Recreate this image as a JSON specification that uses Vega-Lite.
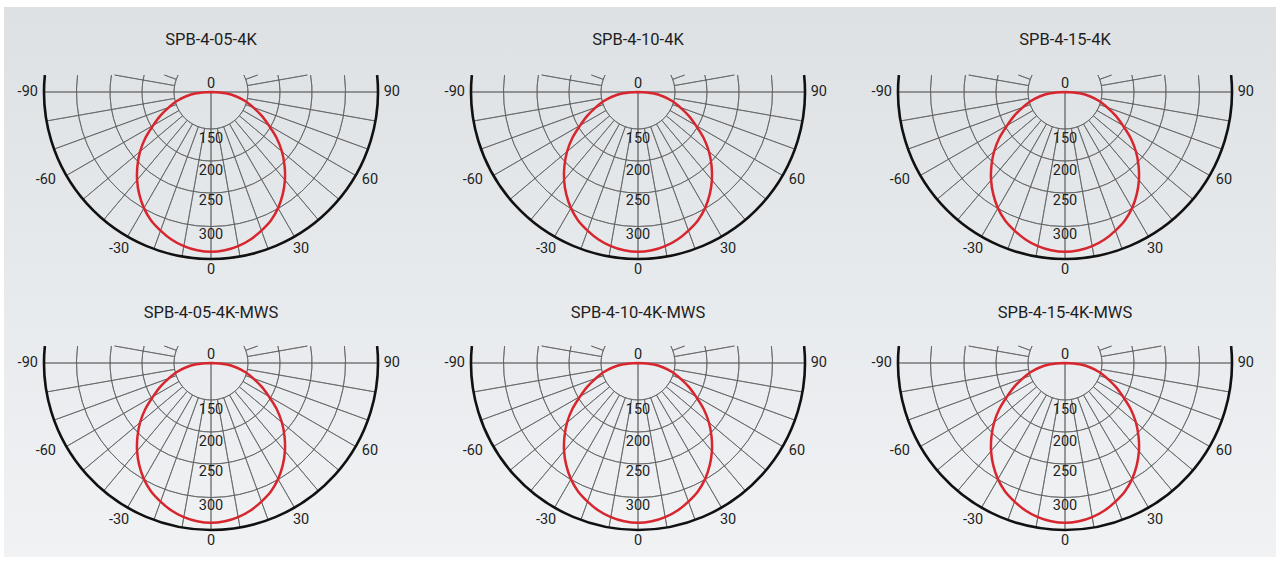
{
  "$schema": "https://vega.github.io/schema/vega-lite/v6.json",
  "background": "white",
  "padding": {"left": 4, "right": 4, "top": 7, "bottom": 5},
  "config": {"view": {"stroke": null}, "font": "Roboto"},
  "datasets": {
    "rings": [
      {"r": 77.5, "t1": 117.35, "t2": -117.35, "kind": "grid"},
      {"r": 144.6, "t1": 104.26, "t2": -104.26, "kind": "grid"},
      {"r": 211.7, "t1": 99.69, "t2": -99.69, "kind": "grid"},
      {"r": 281.9, "t1": 97.26, "t2": -97.26, "kind": "grid"},
      {"r": 350, "t1": 95.84, "t2": -95.84, "kind": "outer"}
    ],
    "spokes": [
      {"a": 0, "r1": 0, "r2": 350},
      {"a": 90, "r1": 0, "r2": 350},
      {"a": -90, "r1": 0, "r2": 350},
      {"a": 10, "r1": 77.5, "r2": 350}, {"a": -10, "r1": 77.5, "r2": 350},
      {"a": 20, "r1": 77.5, "r2": 350}, {"a": -20, "r1": 77.5, "r2": 350},
      {"a": 30, "r1": 77.5, "r2": 350}, {"a": -30, "r1": 77.5, "r2": 350},
      {"a": 40, "r1": 77.5, "r2": 350}, {"a": -40, "r1": 77.5, "r2": 350},
      {"a": 50, "r1": 77.5, "r2": 350}, {"a": -50, "r1": 77.5, "r2": 350},
      {"a": 60, "r1": 77.5, "r2": 350}, {"a": -60, "r1": 77.5, "r2": 350},
      {"a": 70, "r1": 77.5, "r2": 350}, {"a": -70, "r1": 77.5, "r2": 350},
      {"a": 80, "r1": 77.5, "r2": 350}, {"a": -80, "r1": 77.5, "r2": 350},
      {"a": 100, "r1": 77.5, "r2": 205}, {"a": -100, "r1": 77.5, "r2": 205},
      {"a": 110, "r1": 77.5, "r2": 104}, {"a": -110, "r1": 77.5, "r2": 104}
    ],
    "labels": [
      {"label": "-90", "a": -90, "r": 384},
      {"label": "90", "a": 90, "r": 379},
      {"label": "-60", "a": -62, "r": 392},
      {"label": "60", "a": 61, "r": 381},
      {"label": "-30", "a": -30.3, "r": 382},
      {"label": "30", "a": 29.8, "r": 380},
      {"label": "0", "a": 0, "r": 374},
      {"label": "0", "a": 180, "r": 16},
      {"label": "150", "a": 0, "r": 98},
      {"label": "200", "a": 0, "r": 166},
      {"label": "250", "a": 0, "r": 229},
      {"label": "300", "a": 0, "r": 299}
    ],
    "curve": [
      {"lamp":"SPB-4-05-4K","angle":-90,"intensity":0},{"lamp":"SPB-4-05-4K","angle":-85,"intensity":31},{"lamp":"SPB-4-05-4K","angle":-80,"intensity":54},{"lamp":"SPB-4-05-4K","angle":-75,"intensity":75},{"lamp":"SPB-4-05-4K","angle":-70,"intensity":94},{"lamp":"SPB-4-05-4K","angle":-65,"intensity":117},{"lamp":"SPB-4-05-4K","angle":-60,"intensity":140},{"lamp":"SPB-4-05-4K","angle":-55,"intensity":168},{"lamp":"SPB-4-05-4K","angle":-50,"intensity":194},{"lamp":"SPB-4-05-4K","angle":-45,"intensity":218},{"lamp":"SPB-4-05-4K","angle":-40,"intensity":241},{"lamp":"SPB-4-05-4K","angle":-35,"intensity":262},{"lamp":"SPB-4-05-4K","angle":-30,"intensity":281},{"lamp":"SPB-4-05-4K","angle":-25,"intensity":297},{"lamp":"SPB-4-05-4K","angle":-20,"intensity":309},{"lamp":"SPB-4-05-4K","angle":-15,"intensity":320},{"lamp":"SPB-4-05-4K","angle":-10,"intensity":328},{"lamp":"SPB-4-05-4K","angle":-5,"intensity":333},{"lamp":"SPB-4-05-4K","angle":0,"intensity":335},{"lamp":"SPB-4-05-4K","angle":5,"intensity":333},{"lamp":"SPB-4-05-4K","angle":10,"intensity":328},{"lamp":"SPB-4-05-4K","angle":15,"intensity":320},{"lamp":"SPB-4-05-4K","angle":20,"intensity":309},{"lamp":"SPB-4-05-4K","angle":25,"intensity":297},{"lamp":"SPB-4-05-4K","angle":30,"intensity":281},{"lamp":"SPB-4-05-4K","angle":35,"intensity":262},{"lamp":"SPB-4-05-4K","angle":40,"intensity":241},{"lamp":"SPB-4-05-4K","angle":45,"intensity":218},{"lamp":"SPB-4-05-4K","angle":50,"intensity":194},{"lamp":"SPB-4-05-4K","angle":55,"intensity":168},{"lamp":"SPB-4-05-4K","angle":60,"intensity":140},{"lamp":"SPB-4-05-4K","angle":65,"intensity":117},{"lamp":"SPB-4-05-4K","angle":70,"intensity":94},{"lamp":"SPB-4-05-4K","angle":75,"intensity":75},{"lamp":"SPB-4-05-4K","angle":80,"intensity":54},{"lamp":"SPB-4-05-4K","angle":85,"intensity":31},{"lamp":"SPB-4-05-4K","angle":90,"intensity":0},
      {"lamp":"SPB-4-10-4K","angle":-90,"intensity":0},{"lamp":"SPB-4-10-4K","angle":-85,"intensity":31},{"lamp":"SPB-4-10-4K","angle":-80,"intensity":54},{"lamp":"SPB-4-10-4K","angle":-75,"intensity":75},{"lamp":"SPB-4-10-4K","angle":-70,"intensity":94},{"lamp":"SPB-4-10-4K","angle":-65,"intensity":117},{"lamp":"SPB-4-10-4K","angle":-60,"intensity":140},{"lamp":"SPB-4-10-4K","angle":-55,"intensity":168},{"lamp":"SPB-4-10-4K","angle":-50,"intensity":194},{"lamp":"SPB-4-10-4K","angle":-45,"intensity":218},{"lamp":"SPB-4-10-4K","angle":-40,"intensity":241},{"lamp":"SPB-4-10-4K","angle":-35,"intensity":262},{"lamp":"SPB-4-10-4K","angle":-30,"intensity":281},{"lamp":"SPB-4-10-4K","angle":-25,"intensity":297},{"lamp":"SPB-4-10-4K","angle":-20,"intensity":309},{"lamp":"SPB-4-10-4K","angle":-15,"intensity":320},{"lamp":"SPB-4-10-4K","angle":-10,"intensity":328},{"lamp":"SPB-4-10-4K","angle":-5,"intensity":333},{"lamp":"SPB-4-10-4K","angle":0,"intensity":335},{"lamp":"SPB-4-10-4K","angle":5,"intensity":333},{"lamp":"SPB-4-10-4K","angle":10,"intensity":328},{"lamp":"SPB-4-10-4K","angle":15,"intensity":320},{"lamp":"SPB-4-10-4K","angle":20,"intensity":309},{"lamp":"SPB-4-10-4K","angle":25,"intensity":297},{"lamp":"SPB-4-10-4K","angle":30,"intensity":281},{"lamp":"SPB-4-10-4K","angle":35,"intensity":262},{"lamp":"SPB-4-10-4K","angle":40,"intensity":241},{"lamp":"SPB-4-10-4K","angle":45,"intensity":218},{"lamp":"SPB-4-10-4K","angle":50,"intensity":194},{"lamp":"SPB-4-10-4K","angle":55,"intensity":168},{"lamp":"SPB-4-10-4K","angle":60,"intensity":140},{"lamp":"SPB-4-10-4K","angle":65,"intensity":117},{"lamp":"SPB-4-10-4K","angle":70,"intensity":94},{"lamp":"SPB-4-10-4K","angle":75,"intensity":75},{"lamp":"SPB-4-10-4K","angle":80,"intensity":54},{"lamp":"SPB-4-10-4K","angle":85,"intensity":31},{"lamp":"SPB-4-10-4K","angle":90,"intensity":0},
      {"lamp":"SPB-4-15-4K","angle":-90,"intensity":0},{"lamp":"SPB-4-15-4K","angle":-85,"intensity":31},{"lamp":"SPB-4-15-4K","angle":-80,"intensity":54},{"lamp":"SPB-4-15-4K","angle":-75,"intensity":75},{"lamp":"SPB-4-15-4K","angle":-70,"intensity":94},{"lamp":"SPB-4-15-4K","angle":-65,"intensity":117},{"lamp":"SPB-4-15-4K","angle":-60,"intensity":140},{"lamp":"SPB-4-15-4K","angle":-55,"intensity":168},{"lamp":"SPB-4-15-4K","angle":-50,"intensity":194},{"lamp":"SPB-4-15-4K","angle":-45,"intensity":218},{"lamp":"SPB-4-15-4K","angle":-40,"intensity":241},{"lamp":"SPB-4-15-4K","angle":-35,"intensity":262},{"lamp":"SPB-4-15-4K","angle":-30,"intensity":281},{"lamp":"SPB-4-15-4K","angle":-25,"intensity":297},{"lamp":"SPB-4-15-4K","angle":-20,"intensity":309},{"lamp":"SPB-4-15-4K","angle":-15,"intensity":320},{"lamp":"SPB-4-15-4K","angle":-10,"intensity":328},{"lamp":"SPB-4-15-4K","angle":-5,"intensity":333},{"lamp":"SPB-4-15-4K","angle":0,"intensity":335},{"lamp":"SPB-4-15-4K","angle":5,"intensity":333},{"lamp":"SPB-4-15-4K","angle":10,"intensity":328},{"lamp":"SPB-4-15-4K","angle":15,"intensity":320},{"lamp":"SPB-4-15-4K","angle":20,"intensity":309},{"lamp":"SPB-4-15-4K","angle":25,"intensity":297},{"lamp":"SPB-4-15-4K","angle":30,"intensity":281},{"lamp":"SPB-4-15-4K","angle":35,"intensity":262},{"lamp":"SPB-4-15-4K","angle":40,"intensity":241},{"lamp":"SPB-4-15-4K","angle":45,"intensity":218},{"lamp":"SPB-4-15-4K","angle":50,"intensity":194},{"lamp":"SPB-4-15-4K","angle":55,"intensity":168},{"lamp":"SPB-4-15-4K","angle":60,"intensity":140},{"lamp":"SPB-4-15-4K","angle":65,"intensity":117},{"lamp":"SPB-4-15-4K","angle":70,"intensity":94},{"lamp":"SPB-4-15-4K","angle":75,"intensity":75},{"lamp":"SPB-4-15-4K","angle":80,"intensity":54},{"lamp":"SPB-4-15-4K","angle":85,"intensity":31},{"lamp":"SPB-4-15-4K","angle":90,"intensity":0},
      {"lamp":"SPB-4-05-4K-MWS","angle":-90,"intensity":0},{"lamp":"SPB-4-05-4K-MWS","angle":-85,"intensity":31},{"lamp":"SPB-4-05-4K-MWS","angle":-80,"intensity":54},{"lamp":"SPB-4-05-4K-MWS","angle":-75,"intensity":75},{"lamp":"SPB-4-05-4K-MWS","angle":-70,"intensity":94},{"lamp":"SPB-4-05-4K-MWS","angle":-65,"intensity":117},{"lamp":"SPB-4-05-4K-MWS","angle":-60,"intensity":140},{"lamp":"SPB-4-05-4K-MWS","angle":-55,"intensity":168},{"lamp":"SPB-4-05-4K-MWS","angle":-50,"intensity":194},{"lamp":"SPB-4-05-4K-MWS","angle":-45,"intensity":218},{"lamp":"SPB-4-05-4K-MWS","angle":-40,"intensity":241},{"lamp":"SPB-4-05-4K-MWS","angle":-35,"intensity":262},{"lamp":"SPB-4-05-4K-MWS","angle":-30,"intensity":281},{"lamp":"SPB-4-05-4K-MWS","angle":-25,"intensity":297},{"lamp":"SPB-4-05-4K-MWS","angle":-20,"intensity":309},{"lamp":"SPB-4-05-4K-MWS","angle":-15,"intensity":320},{"lamp":"SPB-4-05-4K-MWS","angle":-10,"intensity":328},{"lamp":"SPB-4-05-4K-MWS","angle":-5,"intensity":333},{"lamp":"SPB-4-05-4K-MWS","angle":0,"intensity":335},{"lamp":"SPB-4-05-4K-MWS","angle":5,"intensity":333},{"lamp":"SPB-4-05-4K-MWS","angle":10,"intensity":328},{"lamp":"SPB-4-05-4K-MWS","angle":15,"intensity":320},{"lamp":"SPB-4-05-4K-MWS","angle":20,"intensity":309},{"lamp":"SPB-4-05-4K-MWS","angle":25,"intensity":297},{"lamp":"SPB-4-05-4K-MWS","angle":30,"intensity":281},{"lamp":"SPB-4-05-4K-MWS","angle":35,"intensity":262},{"lamp":"SPB-4-05-4K-MWS","angle":40,"intensity":241},{"lamp":"SPB-4-05-4K-MWS","angle":45,"intensity":218},{"lamp":"SPB-4-05-4K-MWS","angle":50,"intensity":194},{"lamp":"SPB-4-05-4K-MWS","angle":55,"intensity":168},{"lamp":"SPB-4-05-4K-MWS","angle":60,"intensity":140},{"lamp":"SPB-4-05-4K-MWS","angle":65,"intensity":117},{"lamp":"SPB-4-05-4K-MWS","angle":70,"intensity":94},{"lamp":"SPB-4-05-4K-MWS","angle":75,"intensity":75},{"lamp":"SPB-4-05-4K-MWS","angle":80,"intensity":54},{"lamp":"SPB-4-05-4K-MWS","angle":85,"intensity":31},{"lamp":"SPB-4-05-4K-MWS","angle":90,"intensity":0},
      {"lamp":"SPB-4-10-4K-MWS","angle":-90,"intensity":0},{"lamp":"SPB-4-10-4K-MWS","angle":-85,"intensity":31},{"lamp":"SPB-4-10-4K-MWS","angle":-80,"intensity":54},{"lamp":"SPB-4-10-4K-MWS","angle":-75,"intensity":75},{"lamp":"SPB-4-10-4K-MWS","angle":-70,"intensity":94},{"lamp":"SPB-4-10-4K-MWS","angle":-65,"intensity":117},{"lamp":"SPB-4-10-4K-MWS","angle":-60,"intensity":140},{"lamp":"SPB-4-10-4K-MWS","angle":-55,"intensity":168},{"lamp":"SPB-4-10-4K-MWS","angle":-50,"intensity":194},{"lamp":"SPB-4-10-4K-MWS","angle":-45,"intensity":218},{"lamp":"SPB-4-10-4K-MWS","angle":-40,"intensity":241},{"lamp":"SPB-4-10-4K-MWS","angle":-35,"intensity":262},{"lamp":"SPB-4-10-4K-MWS","angle":-30,"intensity":281},{"lamp":"SPB-4-10-4K-MWS","angle":-25,"intensity":297},{"lamp":"SPB-4-10-4K-MWS","angle":-20,"intensity":309},{"lamp":"SPB-4-10-4K-MWS","angle":-15,"intensity":320},{"lamp":"SPB-4-10-4K-MWS","angle":-10,"intensity":328},{"lamp":"SPB-4-10-4K-MWS","angle":-5,"intensity":333},{"lamp":"SPB-4-10-4K-MWS","angle":0,"intensity":335},{"lamp":"SPB-4-10-4K-MWS","angle":5,"intensity":333},{"lamp":"SPB-4-10-4K-MWS","angle":10,"intensity":328},{"lamp":"SPB-4-10-4K-MWS","angle":15,"intensity":320},{"lamp":"SPB-4-10-4K-MWS","angle":20,"intensity":309},{"lamp":"SPB-4-10-4K-MWS","angle":25,"intensity":297},{"lamp":"SPB-4-10-4K-MWS","angle":30,"intensity":281},{"lamp":"SPB-4-10-4K-MWS","angle":35,"intensity":262},{"lamp":"SPB-4-10-4K-MWS","angle":40,"intensity":241},{"lamp":"SPB-4-10-4K-MWS","angle":45,"intensity":218},{"lamp":"SPB-4-10-4K-MWS","angle":50,"intensity":194},{"lamp":"SPB-4-10-4K-MWS","angle":55,"intensity":168},{"lamp":"SPB-4-10-4K-MWS","angle":60,"intensity":140},{"lamp":"SPB-4-10-4K-MWS","angle":65,"intensity":117},{"lamp":"SPB-4-10-4K-MWS","angle":70,"intensity":94},{"lamp":"SPB-4-10-4K-MWS","angle":75,"intensity":75},{"lamp":"SPB-4-10-4K-MWS","angle":80,"intensity":54},{"lamp":"SPB-4-10-4K-MWS","angle":85,"intensity":31},{"lamp":"SPB-4-10-4K-MWS","angle":90,"intensity":0},
      {"lamp":"SPB-4-15-4K-MWS","angle":-90,"intensity":0},{"lamp":"SPB-4-15-4K-MWS","angle":-85,"intensity":31},{"lamp":"SPB-4-15-4K-MWS","angle":-80,"intensity":54},{"lamp":"SPB-4-15-4K-MWS","angle":-75,"intensity":75},{"lamp":"SPB-4-15-4K-MWS","angle":-70,"intensity":94},{"lamp":"SPB-4-15-4K-MWS","angle":-65,"intensity":117},{"lamp":"SPB-4-15-4K-MWS","angle":-60,"intensity":140},{"lamp":"SPB-4-15-4K-MWS","angle":-55,"intensity":168},{"lamp":"SPB-4-15-4K-MWS","angle":-50,"intensity":194},{"lamp":"SPB-4-15-4K-MWS","angle":-45,"intensity":218},{"lamp":"SPB-4-15-4K-MWS","angle":-40,"intensity":241},{"lamp":"SPB-4-15-4K-MWS","angle":-35,"intensity":262},{"lamp":"SPB-4-15-4K-MWS","angle":-30,"intensity":281},{"lamp":"SPB-4-15-4K-MWS","angle":-25,"intensity":297},{"lamp":"SPB-4-15-4K-MWS","angle":-20,"intensity":309},{"lamp":"SPB-4-15-4K-MWS","angle":-15,"intensity":320},{"lamp":"SPB-4-15-4K-MWS","angle":-10,"intensity":328},{"lamp":"SPB-4-15-4K-MWS","angle":-5,"intensity":333},{"lamp":"SPB-4-15-4K-MWS","angle":0,"intensity":335},{"lamp":"SPB-4-15-4K-MWS","angle":5,"intensity":333},{"lamp":"SPB-4-15-4K-MWS","angle":10,"intensity":328},{"lamp":"SPB-4-15-4K-MWS","angle":15,"intensity":320},{"lamp":"SPB-4-15-4K-MWS","angle":20,"intensity":309},{"lamp":"SPB-4-15-4K-MWS","angle":25,"intensity":297},{"lamp":"SPB-4-15-4K-MWS","angle":30,"intensity":281},{"lamp":"SPB-4-15-4K-MWS","angle":35,"intensity":262},{"lamp":"SPB-4-15-4K-MWS","angle":40,"intensity":241},{"lamp":"SPB-4-15-4K-MWS","angle":45,"intensity":218},{"lamp":"SPB-4-15-4K-MWS","angle":50,"intensity":194},{"lamp":"SPB-4-15-4K-MWS","angle":55,"intensity":168},{"lamp":"SPB-4-15-4K-MWS","angle":60,"intensity":140},{"lamp":"SPB-4-15-4K-MWS","angle":65,"intensity":117},{"lamp":"SPB-4-15-4K-MWS","angle":70,"intensity":94},{"lamp":"SPB-4-15-4K-MWS","angle":75,"intensity":75},{"lamp":"SPB-4-15-4K-MWS","angle":80,"intensity":54},{"lamp":"SPB-4-15-4K-MWS","angle":85,"intensity":31},{"lamp":"SPB-4-15-4K-MWS","angle":90,"intensity":0}
    ]
  },
  "spacing": 0,
  "vconcat": [
    {
      "spacing": 0,
      "hconcat": [
        {
          "width": 424, "height": 275,
          "view": {"stroke": null, "fill": {"gradient": "linear", "x1": 0, "y1": 0, "x2": 0, "y2": 1, "stops": [{"offset": 0, "color": "#dde1e4"}, {"offset": 1, "color": "#e7eaed"}]}},
          "layer": [
            {"data": {"name": "rings"}, "transform": [{"filter": "datum.kind == 'grid'"}],
             "mark": {"type": "arc", "filled": false, "color": "#5f5f5f", "strokeWidth": 0.75},
             "encoding": {
               "x": {"datum": 0, "type": "quantitative", "scale": {"domain": [-350, 350], "range": [40, 374]}, "axis": null},
               "y": {"datum": 0, "type": "quantitative", "scale": {"domain": [-350, 350], "range": [252, -82]}, "axis": null},
               "theta": {"field": "t1", "type": "quantitative", "scale": {"domain": [180, -180], "range": [0, 6.283185307179586]}, "stack": null},
               "theta2": {"field": "t2"},
               "radius": {"field": "r", "type": "quantitative", "scale": {"type": "linear", "domain": [0, 350], "range": [0, 167]}},
               "radius2": {"field": "r"}}},
            {"data": {"name": "spokes"},
             "mark": {"type": "arc", "filled": false, "color": "#5f5f5f", "strokeWidth": 0.75},
             "encoding": {
               "x": {"datum": 0, "type": "quantitative", "axis": null},
               "y": {"datum": 0, "type": "quantitative", "axis": null},
               "theta": {"field": "a", "type": "quantitative", "stack": null},
               "theta2": {"field": "a"},
               "radius": {"field": "r2", "type": "quantitative"},
               "radius2": {"field": "r1"}}},
            {"data": {"name": "rings"}, "transform": [{"filter": "datum.kind == 'outer'"}],
             "mark": {"type": "arc", "filled": false, "color": "#111111", "strokeWidth": 2.6},
             "encoding": {
               "x": {"datum": 0, "type": "quantitative", "axis": null},
               "y": {"datum": 0, "type": "quantitative", "axis": null},
               "theta": {"field": "t1", "type": "quantitative", "stack": null},
               "theta2": {"field": "t2"},
               "radius": {"field": "r", "type": "quantitative"},
               "radius2": {"field": "r"}}},
            {"data": {"name": "curve"},
             "transform": [{"filter": "datum.lamp == 'SPB-4-05-4K'"}, {"calculate": "datum.intensity * sin(datum.angle * PI / 180)", "as": "px"}, {"calculate": "-datum.intensity * cos(datum.angle * PI / 180)", "as": "py"}],
             "mark": {"type": "line", "color": "#d7262e", "strokeWidth": 2.5, "interpolate": "catmull-rom"},
             "encoding": {
               "x": {"field": "px", "type": "quantitative", "axis": null},
               "y": {"field": "py", "type": "quantitative", "axis": null},
               "order": {"field": "angle", "type": "quantitative"}}},
            {"data": {"name": "labels"},
             "transform": [{"calculate": "datum.r * sin(datum.a * PI / 180)", "as": "px"}, {"calculate": "-datum.r * cos(datum.a * PI / 180)", "as": "py"}],
             "mark": {"type": "text", "fontSize": 14.5, "color": "#1e1e1e", "align": "center", "baseline": "middle"},
             "encoding": {
               "x": {"field": "px", "type": "quantitative", "axis": null},
               "y": {"field": "py", "type": "quantitative", "axis": null},
               "text": {"field": "label"}}},
            {"data": {"values": [{"lamp": "SPB-4-05-4K"}]},
             "mark": {"type": "text", "fontSize": 16.5, "color": "#1e1e1e", "align": "center", "baseline": "middle"},
             "encoding": {
               "x": {"datum": 0, "type": "quantitative", "axis": null},
               "y": {"datum": 110, "type": "quantitative", "axis": null},
               "text": {"field": "lamp"}}}
          ]
        },
        {
          "width": 424, "height": 275,
          "view": {"stroke": null, "fill": {"gradient": "linear", "x1": 0, "y1": 0, "x2": 0, "y2": 1, "stops": [{"offset": 0, "color": "#dde1e4"}, {"offset": 1, "color": "#e7eaed"}]}},
          "layer": [
            {"data": {"name": "rings"}, "transform": [{"filter": "datum.kind == 'grid'"}],
             "mark": {"type": "arc", "filled": false, "color": "#5f5f5f", "strokeWidth": 0.75},
             "encoding": {
               "x": {"datum": 0, "type": "quantitative", "scale": {"domain": [-350, 350], "range": [43, 377]}, "axis": null},
               "y": {"datum": 0, "type": "quantitative", "scale": {"domain": [-350, 350], "range": [252, -82]}, "axis": null},
               "theta": {"field": "t1", "type": "quantitative", "scale": {"domain": [180, -180], "range": [0, 6.283185307179586]}, "stack": null},
               "theta2": {"field": "t2"},
               "radius": {"field": "r", "type": "quantitative", "scale": {"type": "linear", "domain": [0, 350], "range": [0, 167]}},
               "radius2": {"field": "r"}}},
            {"data": {"name": "spokes"},
             "mark": {"type": "arc", "filled": false, "color": "#5f5f5f", "strokeWidth": 0.75},
             "encoding": {
               "x": {"datum": 0, "type": "quantitative", "axis": null},
               "y": {"datum": 0, "type": "quantitative", "axis": null},
               "theta": {"field": "a", "type": "quantitative", "stack": null},
               "theta2": {"field": "a"},
               "radius": {"field": "r2", "type": "quantitative"},
               "radius2": {"field": "r1"}}},
            {"data": {"name": "rings"}, "transform": [{"filter": "datum.kind == 'outer'"}],
             "mark": {"type": "arc", "filled": false, "color": "#111111", "strokeWidth": 2.6},
             "encoding": {
               "x": {"datum": 0, "type": "quantitative", "axis": null},
               "y": {"datum": 0, "type": "quantitative", "axis": null},
               "theta": {"field": "t1", "type": "quantitative", "stack": null},
               "theta2": {"field": "t2"},
               "radius": {"field": "r", "type": "quantitative"},
               "radius2": {"field": "r"}}},
            {"data": {"name": "curve"},
             "transform": [{"filter": "datum.lamp == 'SPB-4-10-4K'"}, {"calculate": "datum.intensity * sin(datum.angle * PI / 180)", "as": "px"}, {"calculate": "-datum.intensity * cos(datum.angle * PI / 180)", "as": "py"}],
             "mark": {"type": "line", "color": "#d7262e", "strokeWidth": 2.5, "interpolate": "catmull-rom"},
             "encoding": {
               "x": {"field": "px", "type": "quantitative", "axis": null},
               "y": {"field": "py", "type": "quantitative", "axis": null},
               "order": {"field": "angle", "type": "quantitative"}}},
            {"data": {"name": "labels"},
             "transform": [{"calculate": "datum.r * sin(datum.a * PI / 180)", "as": "px"}, {"calculate": "-datum.r * cos(datum.a * PI / 180)", "as": "py"}],
             "mark": {"type": "text", "fontSize": 14.5, "color": "#1e1e1e", "align": "center", "baseline": "middle"},
             "encoding": {
               "x": {"field": "px", "type": "quantitative", "axis": null},
               "y": {"field": "py", "type": "quantitative", "axis": null},
               "text": {"field": "label"}}},
            {"data": {"values": [{"lamp": "SPB-4-10-4K"}]},
             "mark": {"type": "text", "fontSize": 16.5, "color": "#1e1e1e", "align": "center", "baseline": "middle"},
             "encoding": {
               "x": {"datum": 0, "type": "quantitative", "axis": null},
               "y": {"datum": 110, "type": "quantitative", "axis": null},
               "text": {"field": "lamp"}}}
          ]
        },
        {
          "width": 424, "height": 275,
          "view": {"stroke": null, "fill": {"gradient": "linear", "x1": 0, "y1": 0, "x2": 0, "y2": 1, "stops": [{"offset": 0, "color": "#dde1e4"}, {"offset": 1, "color": "#e7eaed"}]}},
          "layer": [
            {"data": {"name": "rings"}, "transform": [{"filter": "datum.kind == 'grid'"}],
             "mark": {"type": "arc", "filled": false, "color": "#5f5f5f", "strokeWidth": 0.75},
             "encoding": {
               "x": {"datum": 0, "type": "quantitative", "scale": {"domain": [-350, 350], "range": [46, 380]}, "axis": null},
               "y": {"datum": 0, "type": "quantitative", "scale": {"domain": [-350, 350], "range": [252, -82]}, "axis": null},
               "theta": {"field": "t1", "type": "quantitative", "scale": {"domain": [180, -180], "range": [0, 6.283185307179586]}, "stack": null},
               "theta2": {"field": "t2"},
               "radius": {"field": "r", "type": "quantitative", "scale": {"type": "linear", "domain": [0, 350], "range": [0, 167]}},
               "radius2": {"field": "r"}}},
            {"data": {"name": "spokes"},
             "mark": {"type": "arc", "filled": false, "color": "#5f5f5f", "strokeWidth": 0.75},
             "encoding": {
               "x": {"datum": 0, "type": "quantitative", "axis": null},
               "y": {"datum": 0, "type": "quantitative", "axis": null},
               "theta": {"field": "a", "type": "quantitative", "stack": null},
               "theta2": {"field": "a"},
               "radius": {"field": "r2", "type": "quantitative"},
               "radius2": {"field": "r1"}}},
            {"data": {"name": "rings"}, "transform": [{"filter": "datum.kind == 'outer'"}],
             "mark": {"type": "arc", "filled": false, "color": "#111111", "strokeWidth": 2.6},
             "encoding": {
               "x": {"datum": 0, "type": "quantitative", "axis": null},
               "y": {"datum": 0, "type": "quantitative", "axis": null},
               "theta": {"field": "t1", "type": "quantitative", "stack": null},
               "theta2": {"field": "t2"},
               "radius": {"field": "r", "type": "quantitative"},
               "radius2": {"field": "r"}}},
            {"data": {"name": "curve"},
             "transform": [{"filter": "datum.lamp == 'SPB-4-15-4K'"}, {"calculate": "datum.intensity * sin(datum.angle * PI / 180)", "as": "px"}, {"calculate": "-datum.intensity * cos(datum.angle * PI / 180)", "as": "py"}],
             "mark": {"type": "line", "color": "#d7262e", "strokeWidth": 2.5, "interpolate": "catmull-rom"},
             "encoding": {
               "x": {"field": "px", "type": "quantitative", "axis": null},
               "y": {"field": "py", "type": "quantitative", "axis": null},
               "order": {"field": "angle", "type": "quantitative"}}},
            {"data": {"name": "labels"},
             "transform": [{"calculate": "datum.r * sin(datum.a * PI / 180)", "as": "px"}, {"calculate": "-datum.r * cos(datum.a * PI / 180)", "as": "py"}],
             "mark": {"type": "text", "fontSize": 14.5, "color": "#1e1e1e", "align": "center", "baseline": "middle"},
             "encoding": {
               "x": {"field": "px", "type": "quantitative", "axis": null},
               "y": {"field": "py", "type": "quantitative", "axis": null},
               "text": {"field": "label"}}},
            {"data": {"values": [{"lamp": "SPB-4-15-4K"}]},
             "mark": {"type": "text", "fontSize": 16.5, "color": "#1e1e1e", "align": "center", "baseline": "middle"},
             "encoding": {
               "x": {"datum": 0, "type": "quantitative", "axis": null},
               "y": {"datum": 110, "type": "quantitative", "axis": null},
               "text": {"field": "lamp"}}}
          ]
        }
      ]
    },
    {
      "spacing": 0,
      "hconcat": [
        {
          "width": 424, "height": 275,
          "view": {"stroke": null, "fill": {"gradient": "linear", "x1": 0, "y1": 0, "x2": 0, "y2": 1, "stops": [{"offset": 0, "color": "#e7eaed"}, {"offset": 1, "color": "#f0f2f4"}]}},
          "layer": [
            {"data": {"name": "rings"}, "transform": [{"filter": "datum.kind == 'grid'"}],
             "mark": {"type": "arc", "filled": false, "color": "#5f5f5f", "strokeWidth": 0.75},
             "encoding": {
               "x": {"datum": 0, "type": "quantitative", "scale": {"domain": [-350, 350], "range": [40, 374]}, "axis": null},
               "y": {"datum": 0, "type": "quantitative", "scale": {"domain": [-350, 350], "range": [248, -86]}, "axis": null},
               "theta": {"field": "t1", "type": "quantitative", "scale": {"domain": [180, -180], "range": [0, 6.283185307179586]}, "stack": null},
               "theta2": {"field": "t2"},
               "radius": {"field": "r", "type": "quantitative", "scale": {"type": "linear", "domain": [0, 350], "range": [0, 167]}},
               "radius2": {"field": "r"}}},
            {"data": {"name": "spokes"},
             "mark": {"type": "arc", "filled": false, "color": "#5f5f5f", "strokeWidth": 0.75},
             "encoding": {
               "x": {"datum": 0, "type": "quantitative", "axis": null},
               "y": {"datum": 0, "type": "quantitative", "axis": null},
               "theta": {"field": "a", "type": "quantitative", "stack": null},
               "theta2": {"field": "a"},
               "radius": {"field": "r2", "type": "quantitative"},
               "radius2": {"field": "r1"}}},
            {"data": {"name": "rings"}, "transform": [{"filter": "datum.kind == 'outer'"}],
             "mark": {"type": "arc", "filled": false, "color": "#111111", "strokeWidth": 2.6},
             "encoding": {
               "x": {"datum": 0, "type": "quantitative", "axis": null},
               "y": {"datum": 0, "type": "quantitative", "axis": null},
               "theta": {"field": "t1", "type": "quantitative", "stack": null},
               "theta2": {"field": "t2"},
               "radius": {"field": "r", "type": "quantitative"},
               "radius2": {"field": "r"}}},
            {"data": {"name": "curve"},
             "transform": [{"filter": "datum.lamp == 'SPB-4-05-4K-MWS'"}, {"calculate": "datum.intensity * sin(datum.angle * PI / 180)", "as": "px"}, {"calculate": "-datum.intensity * cos(datum.angle * PI / 180)", "as": "py"}],
             "mark": {"type": "line", "color": "#d7262e", "strokeWidth": 2.5, "interpolate": "catmull-rom"},
             "encoding": {
               "x": {"field": "px", "type": "quantitative", "axis": null},
               "y": {"field": "py", "type": "quantitative", "axis": null},
               "order": {"field": "angle", "type": "quantitative"}}},
            {"data": {"name": "labels"},
             "transform": [{"calculate": "datum.r * sin(datum.a * PI / 180)", "as": "px"}, {"calculate": "-datum.r * cos(datum.a * PI / 180)", "as": "py"}],
             "mark": {"type": "text", "fontSize": 14.5, "color": "#1e1e1e", "align": "center", "baseline": "middle"},
             "encoding": {
               "x": {"field": "px", "type": "quantitative", "axis": null},
               "y": {"field": "py", "type": "quantitative", "axis": null},
               "text": {"field": "label"}}},
            {"data": {"values": [{"lamp": "SPB-4-05-4K-MWS"}]},
             "mark": {"type": "text", "fontSize": 16.5, "color": "#1e1e1e", "align": "center", "baseline": "middle"},
             "encoding": {
               "x": {"datum": 0, "type": "quantitative", "axis": null},
               "y": {"datum": 105, "type": "quantitative", "axis": null},
               "text": {"field": "lamp"}}}
          ]
        },
        {
          "width": 424, "height": 275,
          "view": {"stroke": null, "fill": {"gradient": "linear", "x1": 0, "y1": 0, "x2": 0, "y2": 1, "stops": [{"offset": 0, "color": "#e7eaed"}, {"offset": 1, "color": "#f0f2f4"}]}},
          "layer": [
            {"data": {"name": "rings"}, "transform": [{"filter": "datum.kind == 'grid'"}],
             "mark": {"type": "arc", "filled": false, "color": "#5f5f5f", "strokeWidth": 0.75},
             "encoding": {
               "x": {"datum": 0, "type": "quantitative", "scale": {"domain": [-350, 350], "range": [43, 377]}, "axis": null},
               "y": {"datum": 0, "type": "quantitative", "scale": {"domain": [-350, 350], "range": [248, -86]}, "axis": null},
               "theta": {"field": "t1", "type": "quantitative", "scale": {"domain": [180, -180], "range": [0, 6.283185307179586]}, "stack": null},
               "theta2": {"field": "t2"},
               "radius": {"field": "r", "type": "quantitative", "scale": {"type": "linear", "domain": [0, 350], "range": [0, 167]}},
               "radius2": {"field": "r"}}},
            {"data": {"name": "spokes"},
             "mark": {"type": "arc", "filled": false, "color": "#5f5f5f", "strokeWidth": 0.75},
             "encoding": {
               "x": {"datum": 0, "type": "quantitative", "axis": null},
               "y": {"datum": 0, "type": "quantitative", "axis": null},
               "theta": {"field": "a", "type": "quantitative", "stack": null},
               "theta2": {"field": "a"},
               "radius": {"field": "r2", "type": "quantitative"},
               "radius2": {"field": "r1"}}},
            {"data": {"name": "rings"}, "transform": [{"filter": "datum.kind == 'outer'"}],
             "mark": {"type": "arc", "filled": false, "color": "#111111", "strokeWidth": 2.6},
             "encoding": {
               "x": {"datum": 0, "type": "quantitative", "axis": null},
               "y": {"datum": 0, "type": "quantitative", "axis": null},
               "theta": {"field": "t1", "type": "quantitative", "stack": null},
               "theta2": {"field": "t2"},
               "radius": {"field": "r", "type": "quantitative"},
               "radius2": {"field": "r"}}},
            {"data": {"name": "curve"},
             "transform": [{"filter": "datum.lamp == 'SPB-4-10-4K-MWS'"}, {"calculate": "datum.intensity * sin(datum.angle * PI / 180)", "as": "px"}, {"calculate": "-datum.intensity * cos(datum.angle * PI / 180)", "as": "py"}],
             "mark": {"type": "line", "color": "#d7262e", "strokeWidth": 2.5, "interpolate": "catmull-rom"},
             "encoding": {
               "x": {"field": "px", "type": "quantitative", "axis": null},
               "y": {"field": "py", "type": "quantitative", "axis": null},
               "order": {"field": "angle", "type": "quantitative"}}},
            {"data": {"name": "labels"},
             "transform": [{"calculate": "datum.r * sin(datum.a * PI / 180)", "as": "px"}, {"calculate": "-datum.r * cos(datum.a * PI / 180)", "as": "py"}],
             "mark": {"type": "text", "fontSize": 14.5, "color": "#1e1e1e", "align": "center", "baseline": "middle"},
             "encoding": {
               "x": {"field": "px", "type": "quantitative", "axis": null},
               "y": {"field": "py", "type": "quantitative", "axis": null},
               "text": {"field": "label"}}},
            {"data": {"values": [{"lamp": "SPB-4-10-4K-MWS"}]},
             "mark": {"type": "text", "fontSize": 16.5, "color": "#1e1e1e", "align": "center", "baseline": "middle"},
             "encoding": {
               "x": {"datum": 0, "type": "quantitative", "axis": null},
               "y": {"datum": 105, "type": "quantitative", "axis": null},
               "text": {"field": "lamp"}}}
          ]
        },
        {
          "width": 424, "height": 275,
          "view": {"stroke": null, "fill": {"gradient": "linear", "x1": 0, "y1": 0, "x2": 0, "y2": 1, "stops": [{"offset": 0, "color": "#e7eaed"}, {"offset": 1, "color": "#f0f2f4"}]}},
          "layer": [
            {"data": {"name": "rings"}, "transform": [{"filter": "datum.kind == 'grid'"}],
             "mark": {"type": "arc", "filled": false, "color": "#5f5f5f", "strokeWidth": 0.75},
             "encoding": {
               "x": {"datum": 0, "type": "quantitative", "scale": {"domain": [-350, 350], "range": [46, 380]}, "axis": null},
               "y": {"datum": 0, "type": "quantitative", "scale": {"domain": [-350, 350], "range": [248, -86]}, "axis": null},
               "theta": {"field": "t1", "type": "quantitative", "scale": {"domain": [180, -180], "range": [0, 6.283185307179586]}, "stack": null},
               "theta2": {"field": "t2"},
               "radius": {"field": "r", "type": "quantitative", "scale": {"type": "linear", "domain": [0, 350], "range": [0, 167]}},
               "radius2": {"field": "r"}}},
            {"data": {"name": "spokes"},
             "mark": {"type": "arc", "filled": false, "color": "#5f5f5f", "strokeWidth": 0.75},
             "encoding": {
               "x": {"datum": 0, "type": "quantitative", "axis": null},
               "y": {"datum": 0, "type": "quantitative", "axis": null},
               "theta": {"field": "a", "type": "quantitative", "stack": null},
               "theta2": {"field": "a"},
               "radius": {"field": "r2", "type": "quantitative"},
               "radius2": {"field": "r1"}}},
            {"data": {"name": "rings"}, "transform": [{"filter": "datum.kind == 'outer'"}],
             "mark": {"type": "arc", "filled": false, "color": "#111111", "strokeWidth": 2.6},
             "encoding": {
               "x": {"datum": 0, "type": "quantitative", "axis": null},
               "y": {"datum": 0, "type": "quantitative", "axis": null},
               "theta": {"field": "t1", "type": "quantitative", "stack": null},
               "theta2": {"field": "t2"},
               "radius": {"field": "r", "type": "quantitative"},
               "radius2": {"field": "r"}}},
            {"data": {"name": "curve"},
             "transform": [{"filter": "datum.lamp == 'SPB-4-15-4K-MWS'"}, {"calculate": "datum.intensity * sin(datum.angle * PI / 180)", "as": "px"}, {"calculate": "-datum.intensity * cos(datum.angle * PI / 180)", "as": "py"}],
             "mark": {"type": "line", "color": "#d7262e", "strokeWidth": 2.5, "interpolate": "catmull-rom"},
             "encoding": {
               "x": {"field": "px", "type": "quantitative", "axis": null},
               "y": {"field": "py", "type": "quantitative", "axis": null},
               "order": {"field": "angle", "type": "quantitative"}}},
            {"data": {"name": "labels"},
             "transform": [{"calculate": "datum.r * sin(datum.a * PI / 180)", "as": "px"}, {"calculate": "-datum.r * cos(datum.a * PI / 180)", "as": "py"}],
             "mark": {"type": "text", "fontSize": 14.5, "color": "#1e1e1e", "align": "center", "baseline": "middle"},
             "encoding": {
               "x": {"field": "px", "type": "quantitative", "axis": null},
               "y": {"field": "py", "type": "quantitative", "axis": null},
               "text": {"field": "label"}}},
            {"data": {"values": [{"lamp": "SPB-4-15-4K-MWS"}]},
             "mark": {"type": "text", "fontSize": 16.5, "color": "#1e1e1e", "align": "center", "baseline": "middle"},
             "encoding": {
               "x": {"datum": 0, "type": "quantitative", "axis": null},
               "y": {"datum": 105, "type": "quantitative", "axis": null},
               "text": {"field": "lamp"}}}
          ]
        }
      ]
    }
  ]
}
